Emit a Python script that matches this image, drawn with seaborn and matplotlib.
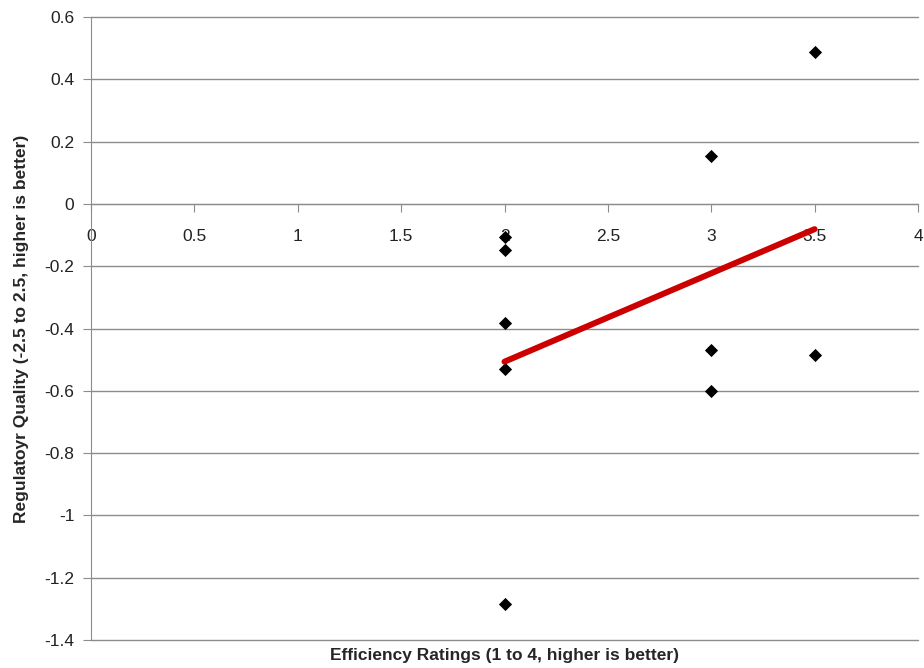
import numpy as np
import pandas as pd
import matplotlib
matplotlib.use('Agg')
import matplotlib.pyplot as plt
import seaborn as sns

# dane
efficiency = [2, 2, 2, 2, 2, 3, 3, 3, 3.5, 3.5]
regulatory = [-0.106, -0.148, -0.382, -0.530, -1.284, 0.154, -0.469, -0.601, 0.488, -0.485]
x_ticks = [0, 0.5, 1, 1.5, 2, 2.5, 3, 3.5, 4]
y_ticks = [-1.4, -1.2, -1, -0.8, -0.6, -0.4, -0.2, 0, 0.2, 0.4, 0.6]

df = pd.DataFrame({'eff': efficiency, 'reg': regulatory})

sns.set_style('white')
plt.rcParams['font.family'] = ['Liberation Sans', 'DejaVu Sans']

fig = plt.figure(figsize=(9.24, 6.68), dpi=100)
ax = fig.add_axes([91 / 924, 1 - 640 / 668, (918 - 91) / 924, (640 - 17) / 668])

grey = '#8c8c8c'
ax.grid(axis='y', color=grey, linewidth=1)
ax.set_axisbelow(True)

sns.regplot(data=df, x='eff', y='reg', ci=None, ax=ax, marker='D',
            scatter_kws={'color': 'black', 's': 45, 'zorder': 3, 'linewidths': 0, 'alpha': 1},
            line_kws={'color': '#cc0000', 'linewidth': 4.3, 'zorder': 4})

ax.set_xlim(0, 4)
ax.set_ylim(-1.4, 0.6)
ax.set_xticks(x_ticks)
ax.set_xticklabels(['0', '0.5', '1', '1.5', '2', '2.5', '3', '3.5', '4'])
ax.set_yticks(y_ticks)
ax.set_yticklabels(['-1.4', '-1.2', '-1', '-0.8', '-0.6', '-0.4', '-0.2', '0', '0.2', '0.4', '0.6'])
# linie siatki na krawędziach też mają być widoczne
for gl in ax.get_ygridlines():
    gl.set_clip_on(False)

# oś x przechodzi przez y=0
ax.spines['bottom'].set_position(('data', 0))
ax.spines['bottom'].set_color(grey)
ax.spines['left'].set_color(grey)
ax.spines['top'].set_visible(False)
ax.spines['right'].set_visible(False)

ax.tick_params(axis='x', direction='out', length=6, color=grey, pad=12, labelsize=12.5,
               labelcolor='#222222', bottom=True)
ax.tick_params(axis='y', direction='out', length=6, color=grey, pad=6, labelsize=12.5,
               labelcolor='#222222', left=True)

ax.set_xlabel('Efficiency Ratings (1 to 4, higher is better)', fontsize=12.5, fontweight='bold')
ax.set_ylabel('Regulatoyr Quality (-2.5 to 2.5, higher is better)', fontsize=12.5, fontweight='bold')
ax.xaxis.set_label_coords(0.5, -8 / 623)
ax.yaxis.set_label_coords(-62 / 827, 0.5)

plt.savefig('out.png', dpi=100)
